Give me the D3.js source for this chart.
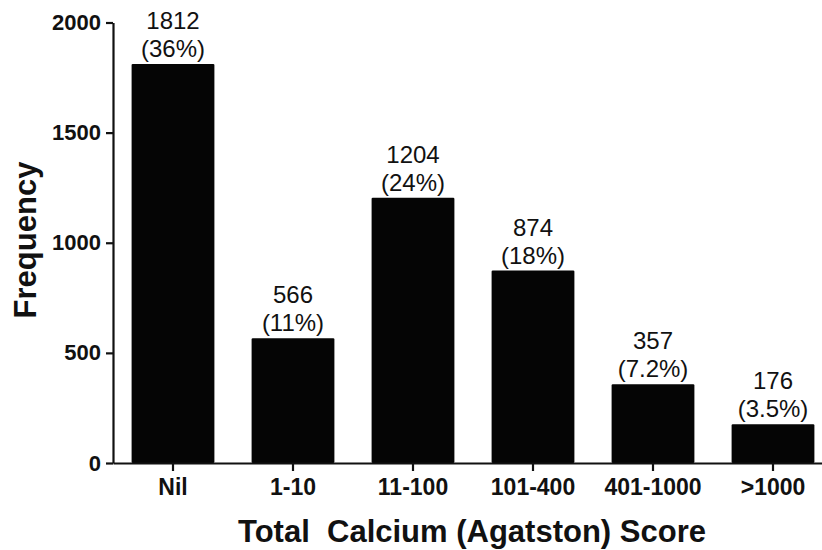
<!DOCTYPE html>
<html>
<head>
<meta charset="utf-8">
<script src="https://cdn.jsdelivr.net/npm/d3@7"></script>
<style>
  html, body { margin: 0; padding: 0; background: #fff; }
  svg { display: block; font-family: "Liberation Sans", Arial, Helvetica, sans-serif; }
  .tick text { font-size: 22px; font-weight: bold; fill: #111; font-family: "Liberation Sans", Arial, sans-serif; }
  .xaxis .tick text { font-size: 23px; }
</style>
</head>
<body>
<svg id="chart" width="822" height="550"></svg>
<script>
const categories = ["Nil", "1-10", "11-100", "101-400", "401-1000", ">1000"];
const frequencies = [1812, 566, 1204, 874, 357, 176];
const percentLabels = ["(36%)", "(11%)", "(24%)", "(18%)", "(7.2%)", "(3.5%)"];
const yTicks = [0, 500, 1000, 1500, 2000];
const xTitle = "Total  Calcium (Agatston) Score";
const yTitle = "Frequency";

const svg = d3.select("#chart");
const y0 = 463, y1 = 22.5, xLeft = 113, xRight = 833;

const x = d3.scaleBand().domain(categories).range([xLeft, xRight]).paddingInner(0.31).paddingOuter(0.155);
const y = d3.scaleLinear().domain([0, 2000]).range([y0, y1]);

// bars
svg.append("g").selectAll("rect").data(categories).join("rect")
  .attr("x", d => x(d))
  .attr("y", (d, i) => y(frequencies[i]))
  .attr("width", x.bandwidth())
  .attr("height", (d, i) => y(0) - y(frequencies[i]))
  .attr("rx", 1.2)
  .attr("fill", "#050505");

// value labels
const lab = svg.append("g").attr("font-size", 24).attr("fill", "#111").attr("text-anchor", "middle");
categories.forEach((c, i) => {
  const cx = x(c) + x.bandwidth() / 2;
  const top = y(frequencies[i]);
  lab.append("text").attr("x", cx).attr("y", top - 35).text(frequencies[i]);
  lab.append("text").attr("x", cx).attr("y", top - 7).text(percentLabels[i]);
});

// y axis
const yAxis = d3.axisLeft(y).tickValues(yTicks).tickFormat(d3.format("d")).tickSize(7).tickPadding(5).tickSizeOuter(0);
const gy = svg.append("g").attr("transform", `translate(${xLeft},0)`).call(yAxis);
gy.attr("font-size", null).attr("font-family", null);
gy.select(".domain").attr("stroke-width", 2.2).attr("stroke", "#111");
gy.selectAll(".tick line").attr("stroke-width", 2.2).attr("stroke", "#111");

// x axis
const xAxis = d3.axisBottom(x).tickSize(8).tickPadding(8).tickSizeOuter(0);
const gx = svg.append("g").attr("class", "xaxis").attr("transform", `translate(0,${y0})`).call(xAxis);
gx.attr("font-size", null).attr("font-family", null);
gx.select(".domain").attr("stroke-width", 2.2).attr("stroke", "#111");
gx.selectAll(".tick line").attr("stroke-width", 2.2).attr("stroke", "#111");
gx.selectAll(".tick text").attr("dy", "0.71em");

// titles
svg.append("text").attr("x", 472).attr("y", 542).attr("text-anchor", "middle")
  .attr("font-size", 31).attr("font-weight", "bold").attr("fill", "#111")
  .style("white-space", "pre").text(xTitle);

svg.append("text").attr("transform", "translate(36,240) rotate(-90)").attr("text-anchor", "middle")
  .attr("font-size", 31).attr("font-weight", "bold").attr("fill", "#111").text(yTitle);
</script>
</body>
</html>
